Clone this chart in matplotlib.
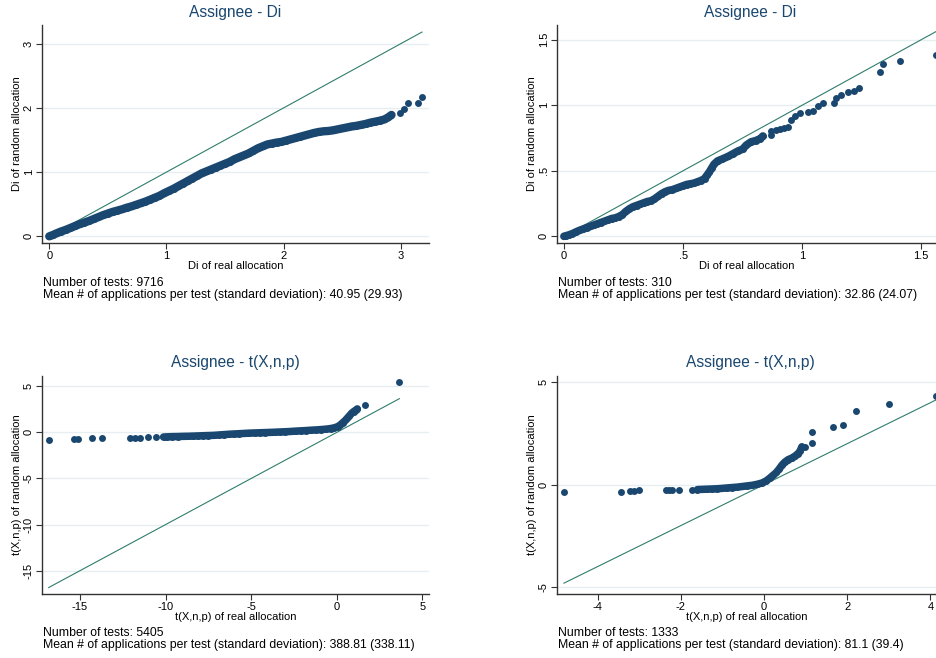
import numpy as np
import matplotlib
matplotlib.use("Agg")
import matplotlib.pyplot as plt

plt.rcParams['font.family'] = ['Liberation Sans', 'DejaVu Sans']

# Panel 1: Di, 9716 tests (quantiles)
di_all_real = [0.00, 0.03, 0.06, 0.10, 0.14, 0.18, 0.22, 0.26, 0.30, 0.34, 0.38, 0.42,
               0.46, 0.50, 0.54, 0.58, 0.62, 0.66, 0.70, 0.74, 0.78, 0.82, 0.86, 0.90,
               0.94, 0.98, 1.02, 1.06, 1.10, 1.14, 1.18, 1.22, 1.26, 1.30, 1.34, 1.38,
               1.42, 1.46, 1.50, 1.54, 1.58, 1.62, 1.66, 1.70, 1.74, 1.78, 1.82, 1.86,
               1.90, 1.94, 1.98, 2.02, 2.06, 2.10, 2.14, 2.18, 2.22, 2.26, 2.30, 2.34,
               2.38, 2.42, 2.46, 2.50, 2.54, 2.58, 2.62, 2.66, 2.70, 2.74, 2.78, 2.82,
               2.86, 2.89, 2.92, 2.995, 3.03, 3.06, 3.15, 3.18]
di_all_rand = [0.00, 0.02, 0.045, 0.075, 0.10, 0.13, 0.16, 0.19, 0.215, 0.24, 0.27, 0.30,
               0.33, 0.355, 0.38, 0.40, 0.42, 0.445, 0.465, 0.49, 0.515, 0.54, 0.57, 0.60,
               0.63, 0.67, 0.705, 0.74, 0.78, 0.82, 0.86, 0.90, 0.94, 0.98, 1.01, 1.04,
               1.07, 1.10, 1.13, 1.16, 1.20, 1.23, 1.26, 1.29, 1.33, 1.37, 1.40, 1.43,
               1.445, 1.46, 1.47, 1.49, 1.51, 1.53, 1.55, 1.57, 1.59, 1.61, 1.625, 1.635,
               1.64, 1.65, 1.665, 1.68, 1.695, 1.71, 1.72, 1.735, 1.75, 1.77, 1.785, 1.80,
               1.82, 1.85, 1.89, 1.92, 1.99, 2.07, 2.08, 2.17]

# Panel 2: Di, 310 tests
di_sub_real = [0.00, 0.01, 0.02, 0.035, 0.05, 0.065, 0.08, 0.095, 0.11, 0.125, 0.14, 0.155,
               0.17, 0.185, 0.20, 0.215, 0.23, 0.245, 0.26, 0.275, 0.29, 0.305, 0.32, 0.335,
               0.35, 0.365, 0.38, 0.395, 0.41, 0.425, 0.44, 0.455, 0.47, 0.485, 0.50, 0.515,
               0.53, 0.545, 0.56, 0.575, 0.59, 0.60, 0.61, 0.62, 0.63, 0.645, 0.665, 0.69,
               0.71, 0.73, 0.75, 0.765, 0.785, 0.805, 0.825, 0.835, 0.87, 0.87, 0.89, 0.905,
               0.925, 0.94, 0.955, 0.968, 0.99, 1.023, 1.044, 1.065, 1.086, 1.135, 1.142, 1.163,
               1.191, 1.219, 1.24, 1.328, 1.341, 1.41, 1.561]
di_sub_rand = [0.00, 0.005, 0.01, 0.02, 0.033, 0.045, 0.055, 0.065, 0.075, 0.085, 0.095, 0.105,
               0.115, 0.125, 0.135, 0.14, 0.15, 0.165, 0.19, 0.21, 0.225, 0.235, 0.245, 0.255,
               0.265, 0.27, 0.285, 0.305, 0.325, 0.34, 0.35, 0.355, 0.365, 0.375, 0.385, 0.395,
               0.40, 0.405, 0.415, 0.425, 0.44, 0.465, 0.49, 0.52, 0.55, 0.575, 0.59, 0.61,
               0.63, 0.65, 0.665, 0.695, 0.72, 0.73, 0.745, 0.765, 0.775, 0.80, 0.81, 0.817,
               0.825, 0.835, 0.885, 0.92, 0.94, 0.947, 0.957, 0.995, 1.015, 1.02, 1.058, 1.079,
               1.104, 1.109, 1.134, 1.252, 1.315, 1.34, 1.384]

# Panel 3: t(X,n,p), 5405 tests
t_all_real = [-16.83, -15.33, -15.10, -14.28, -13.70, -12.08, -11.76, -11.52, -11.04, -10.58,
              -10.12, -9.90, -9.60, -9.30, -9.00, -8.70, -8.40, -8.10, -7.80, -7.50, -7.20,
              -6.90, -6.60, -6.30, -6.00, -5.70, -5.40, -5.10, -4.80, -4.50, -4.20, -3.90,
              -3.60, -3.30, -3.00, -2.70, -2.40, -2.10, -1.80, -1.50, -1.20, -0.90, -0.60,
              -0.35, -0.15, 0.05, 0.20, 0.35, 0.50, 0.62, 0.74, 0.86, 0.98, 1.10, 1.20,
              1.65, 3.66]
t_all_rand = [-0.80, -0.70, -0.70, -0.65, -0.65, -0.64, -0.62, -0.60, -0.55, -0.53,
              -0.50, -0.48, -0.46, -0.45, -0.43, -0.42, -0.40, -0.38, -0.36, -0.34, -0.32,
              -0.28, -0.24, -0.20, -0.17, -0.14, -0.11, -0.08, -0.06, -0.04, -0.02, 0.00,
              0.02, 0.05, 0.07, 0.10, 0.14, 0.17, 0.20, 0.24, 0.27, 0.31, 0.36,
              0.42, 0.50, 0.62, 0.80, 1.05, 1.30, 1.55, 1.80, 2.05, 2.25, 2.40, 2.55,
              2.97, 5.43]

# Panel 4: t(X,n,p), 1333 tests
t_sub_real = [-4.81, -3.44, -3.21, -3.12, -3.01, -2.36, -2.28, -2.21, -2.04, -1.73, -1.60,
              -1.48, -1.36, -1.24, -1.12, -1.00, -0.88, -0.76, -0.64, -0.52, -0.40, -0.28,
              -0.16, -0.05, 0.05, 0.14, 0.22, 0.30, 0.37, 0.43, 0.50, 0.58, 0.67, 0.75,
              0.82, 0.87, 0.91, 0.99, 1.15, 1.15, 1.67, 1.89, 2.21, 3.01, 4.14]
t_sub_rand = [-0.35, -0.35, -0.30, -0.29, -0.27, -0.27, -0.26, -0.26, -0.25, -0.25, -0.24,
              -0.23, -0.22, -0.21, -0.20, -0.18, -0.16, -0.14, -0.12, -0.09, -0.06, -0.03,
              0.02, 0.08, 0.18, 0.32, 0.46, 0.60, 0.78, 0.95, 1.10, 1.22, 1.30, 1.40,
              1.52, 1.65, 1.85, 1.85, 2.02, 2.57, 2.83, 2.91, 3.58, 3.95, 4.33]

titles = ["Assignee - Di", "Assignee - Di", "Assignee - t(X,n,p)", "Assignee - t(X,n,p)"]
xlabels = ["Di of real allocation", "Di of real allocation",
           "t(X,n,p) of real allocation", "t(X,n,p) of real allocation"]
ylabels = ["Di of random allocation", "Di of random allocation",
           "t(X,n,p) of random allocation", "t(X,n,p) of random allocation"]
n_tests = [9716, 310, 5405, 1333]
mean_apps = ["40.95 (29.93)", "32.86 (24.07)", "388.81 (338.11)", "81.1 (39.4)"]

xticks = [[0, 1, 2, 3], [0, 0.5, 1, 1.5], [-15, -10, -5, 0, 5], [-4, -2, 0, 2, 4]]
xticklabels = [["0", "1", "2", "3"], ["0", ".5", "1", "1.5"],
               ["-15", "-10", "-5", "0", "5"], ["-4", "-2", "0", "2", "4"]]
yticks = [[0, 1, 2, 3], [0, 0.5, 1, 1.5], [-15, -10, -5, 0, 5], [-5, 0, 5]]
yticklabels = [["0", "1", "2", "3"], ["0", ".5", "1", "1.5"],
               ["-15", "-10", "-5", "0", "5"], ["-5", "0", "5"]]

xlims = [(-0.062, 3.24), (-0.028, 1.566), (-17.22, 5.39), (-4.97, 4.16)]
ylims = [(-0.104, 3.29), (-0.051, 1.612), (-17.53, 6.15), (-5.34, 5.32)]

series = [(di_all_real, di_all_rand), (di_sub_real, di_sub_rand),
          (t_all_real, t_all_rand), (t_sub_real, t_sub_rand)]
# index range of the dense part of each curve (drawn as a solid band of dots)
dense = [(0, 75), (0, 56), (10, 55), (10, 37)]
band_lw = [6.0, 5.6, 5.4, 5.4]

W, H = 937, 658
navy = "#1a476f"
teal = "#2f7d6c"
gridc = "#e6eef0"

fig = plt.figure(figsize=(W / 100, H / 100), dpi=100)

# axes boxes in pixels: left, top, right, bottom
boxes = [(42, 25, 429, 243), (557.3, 25, 937, 243),
         (42, 375.7, 429, 594), (557.3, 375.7, 937, 594)]
title_pos = [(235.5, 12.7), (750, 12.7), (235.5, 362.7), (750, 362.7)]
note_pos = [(43, 282.7), (558, 282.7), (43, 632.7), (558, 632.7)]

for i in range(4):
    l, t, r, b = boxes[i]
    ax = fig.add_axes([l / W, 1 - b / H, (r - l) / W, (b - t) / H])
    xr, yr = series[i]

    # 45 degree reference line from min to max of real values
    lo, hi = min(xr), max(xr)
    ax.plot([lo, hi], [lo, hi], color=teal, lw=0.8, zorder=2)

    d0, d1 = dense[i]
    ax.plot(xr[d0:d1], yr[d0:d1], '-', color=navy, lw=band_lw[i],
            solid_capstyle='round', solid_joinstyle='round', zorder=3)
    ax.plot(xr, yr, 'o', color=navy, ms=5.0, mec='none', zorder=3)

    ax.set_xlim(*xlims[i])
    ax.set_ylim(*ylims[i])
    ax.set_xticks(xticks[i], xticklabels[i])
    ax.set_yticks(yticks[i], yticklabels[i])
    for lab in ax.get_yticklabels():
        lab.set_rotation(90)
        lab.set_va('center')
    ax.tick_params(labelsize=8, length=4, width=0.8, pad=2, color='#333333')
    ax.yaxis.grid(True, color=gridc, lw=1.0)
    ax.set_axisbelow(True)
    for s in ['top', 'right']:
        ax.spines[s].set_visible(False)
    for s in ['left', 'bottom']:
        ax.spines[s].set_color('#333333')
        ax.spines[s].set_linewidth(1.0)

    ax.set_xlabel(xlabels[i], fontsize=8)
    ax.xaxis.set_label_coords(0.5, -18.0 / (b - t))
    ax.set_ylabel(ylabels[i], fontsize=8)
    ax.yaxis.set_label_coords(-20.0 / (r - l), 0.5)

    tx, ty = title_pos[i]
    fig.text(tx / W, 1 - ty / H, titles[i], ha='center', va='center',
             fontsize=11.2, color=navy)
    nx, ny = note_pos[i]
    fig.text(nx / W, 1 - ny / H, "Number of tests: %d" % n_tests[i],
             ha='left', va='center', fontsize=8.8)
    fig.text(nx / W, 1 - (ny + 12.3) / H,
             "Mean # of applications per test (standard deviation): " + mean_apps[i],
             ha='left', va='center', fontsize=8.8)

fig.savefig("out.png", dpi=100, facecolor='white')
